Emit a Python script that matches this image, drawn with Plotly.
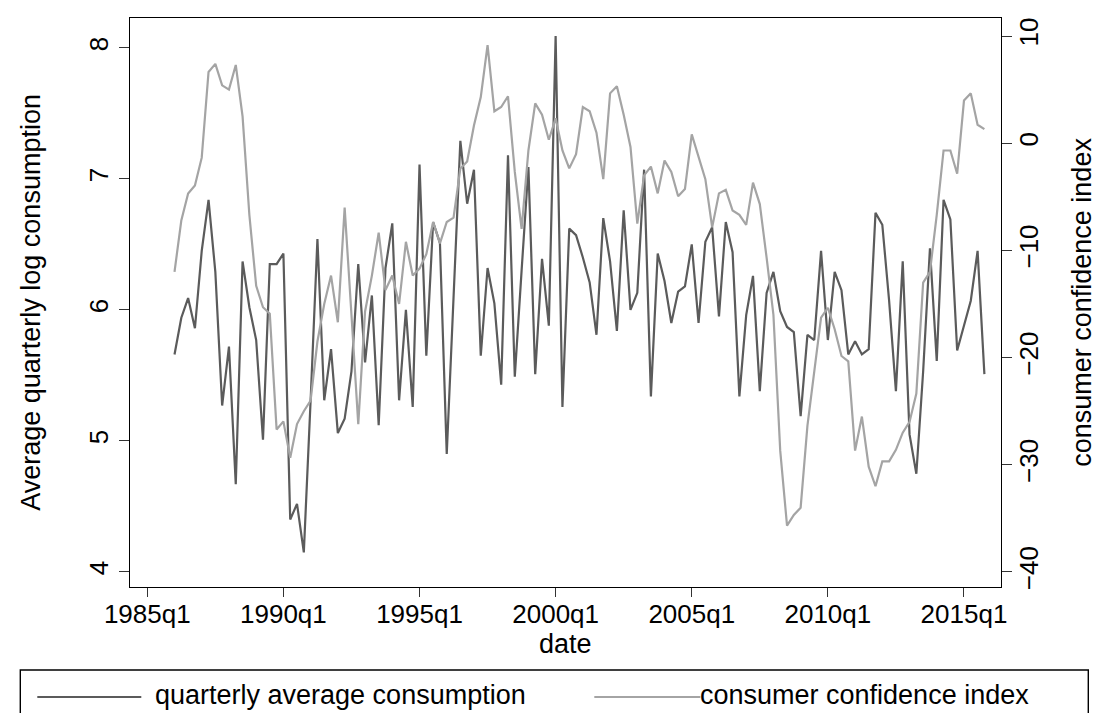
import plotly.graph_objects as go

# ---------------- data ----------------
years = list(range(1986, 2016))
quarters = [f"{y}q{q}" for y in years for q in (1, 2, 3, 4)]

consumption = [
    5.66, 5.94, 6.09, 5.86, 6.45, 6.84, 6.29, 5.27, 5.72, 4.67,
    6.37, 6.02, 5.77, 5.01, 6.35, 6.35, 6.43, 4.40, 4.52, 4.15,
    5.31, 6.54, 5.31, 5.70, 5.06, 5.17, 5.53, 6.35, 5.60, 6.11,
    5.12, 6.32, 6.66, 5.31, 6.00, 5.26, 7.11, 5.65, 6.67, 6.51,
    4.90, 6.07, 7.29, 6.81, 7.07, 5.65, 6.32, 6.05, 5.43, 7.18,
    5.49, 6.30, 7.09, 5.51, 6.39, 5.88, 8.09, 5.26, 6.62, 6.57,
    6.40, 6.21, 5.81, 6.70, 6.37, 5.84, 6.76, 6.00, 6.13, 7.07,
    5.34, 6.43, 6.22, 5.90, 6.14, 6.18, 6.50, 5.90, 6.52, 6.63,
    5.95, 6.67, 6.44, 5.34, 5.96, 6.26, 5.38, 6.13, 6.29, 5.99,
    5.87, 5.83, 5.19, 5.81, 5.77, 6.45, 5.77, 6.29, 6.15, 5.66,
    5.76, 5.66, 5.70, 6.74, 6.65, 6.07, 5.38, 6.37, 5.05, 4.75,
    5.53, 6.47, 5.61, 6.84, 6.69, 5.69, 5.88, 6.07, 6.45, 5.51,
]

confidence = [
    -12.0, -7.2, -4.7, -3.95, -1.35, 6.65, 7.4, 5.4, 5.0, 7.3,
    2.5, -6.7, -13.3, -15.3, -15.9, -26.7, -25.95, -29.35, -26.2, -25.0,
    -24.0, -18.5, -15.0, -12.35, -16.7, -6.0, -16.0, -26.2, -15.7, -12.35,
    -8.35, -13.7, -12.35, -15.0, -9.2, -12.35, -11.7, -10.35, -7.35, -9.35,
    -7.35, -6.95, -2.35, -1.7, 1.65, 4.3, 9.15, 2.98, 3.38, 4.38,
    -2.68, -8.0, -0.68, 3.72, 2.65, 0.32, 2.32, -0.68, -2.35, -1.02,
    3.38, 2.98, 0.98, -3.35, 4.65, 5.32, 2.65, -0.35, -7.5, -3.0,
    -2.18, -4.68, -1.62, -2.68, -4.95, -4.28, 0.82, -1.35, -3.35, -7.85,
    -4.68, -4.35, -6.28, -6.68, -7.62, -3.68, -5.68, -10.68, -16.0, -28.68,
    -35.68, -34.68, -34.0, -26.35, -21.35, -16.28, -15.35, -17.35, -19.85, -20.35,
    -28.68, -25.5, -30.18, -32.0, -29.68, -29.68, -28.6, -27.0, -26.0, -23.35,
    -13.0, -12.0, -6.68, -0.68, -0.68, -2.85, 3.98, 4.65, 1.72, 1.32,
]

x_tick_labels = ["1985q1", "1990q1", "1995q1", "2000q1", "2005q1", "2010q1", "2015q1"]
left_ticks = [4, 5, 6, 7, 8]
right_ticks = [-40, -30, -20, -10, 0, 10]
right_tick_labels = ["\u221240", "\u221230", "\u221220", "\u221210", "0", "10"]

series_names = ["quarterly average consumption", "consumer confidence index"]


def tq(label):
    """Stata %tq encoding: quarters since 1960q1."""
    y, q = label.split("q")
    return (int(y) - 1960) * 4 + int(q) - 1


x = [tq(s) for s in quarters]
x_tickvals = [tq(s) for s in x_tick_labels]

# ---------------- styling ----------------
W, H = 1101, 713
L, R, T, B = 121.7, 992.7, 10.0, 579.0
FONT = "Liberation Sans, Arial, sans-serif"
FS_TICK = 26
FS_TEXT = 27
DARK = "#5b5b5b"
LIGHT = "#a4a4a4"


def px(X):
    return (X - L) / (R - L)


def py(Y):
    return (B - Y) / (B - T)


fig = go.Figure()
fig.add_trace(go.Scatter(x=x, y=consumption, mode="lines", name=series_names[0],
                         line=dict(color=DARK, width=2.2), yaxis="y"))
fig.add_trace(go.Scatter(x=x, y=confidence, mode="lines", name=series_names[1],
                         line=dict(color=LIGHT, width=2.2), yaxis="y2"))

axis_common = dict(showgrid=False, zeroline=False, showline=True, linecolor="black",
                   linewidth=1.4, ticks="outside", tickcolor="#333333", tickwidth=1.2,
                   tickfont=dict(family=FONT, size=FS_TICK, color="black"))

fig.update_layout(
    width=W, height=H, autosize=False,
    margin=dict(l=L, r=W - R, t=T, b=H - B, pad=0),
    paper_bgcolor="white", plot_bgcolor="white",
    showlegend=False,
    xaxis=dict(range=[97.46, 225.44], tickvals=x_tickvals, ticktext=x_tick_labels,
               ticklen=9, mirror=True, ticklabelstandoff=-5, **axis_common),
    yaxis=dict(range=[3.8855, 8.2274], tickvals=left_ticks, ticklen=10, tickangle=-90,
               mirror=True, **axis_common),
    yaxis2=dict(range=[-41.40, 11.68], tickvals=right_ticks, ticktext=right_tick_labels,
                ticklen=10, tickangle=-90, overlaying="y", side="right",
                ticklabelstandoff=-5, **axis_common),
)

tfont = dict(family=FONT, size=FS_TEXT, color="black")
ann = [
    dict(text="Average quarterly log consumption", x=px(22), y=py((T + B) / 2),
         textangle=-90, xanchor="center", yanchor="middle"),
    dict(text="consumer confidence index", x=px(1073), y=py((T + B) / 2),
         textangle=-90, xanchor="center", yanchor="middle"),
    dict(text="date", x=px((L + R) / 2), y=py(636), xanchor="center", yanchor="middle"),
    dict(text=series_names[0], x=px(146), y=py(687), xanchor="left", yanchor="middle"),
    dict(text=series_names[1], x=px(691), y=py(687), xanchor="left", yanchor="middle"),
]
for a in ann:
    fig.add_annotation(xref="paper", yref="paper", showarrow=False, font=tfont,
                       borderpad=0, **a)

shapes = [
    dict(type="rect", x0=px(12), x1=px(1080), y0=py(662), y1=py(740),
         line=dict(color="black", width=1.4), fillcolor="rgba(0,0,0,0)"),
    dict(type="line", x0=px(29), x1=px(133), y0=py(689), y1=py(689),
         line=dict(color=DARK, width=2.2)),
    dict(type="line", x0=px(586), x1=px(692), y0=py(689), y1=py(689),
         line=dict(color=LIGHT, width=2.2)),
]
for s in shapes:
    fig.add_shape(xref="paper", yref="paper", layer="above", **s)

fig.write_html("out.html")
